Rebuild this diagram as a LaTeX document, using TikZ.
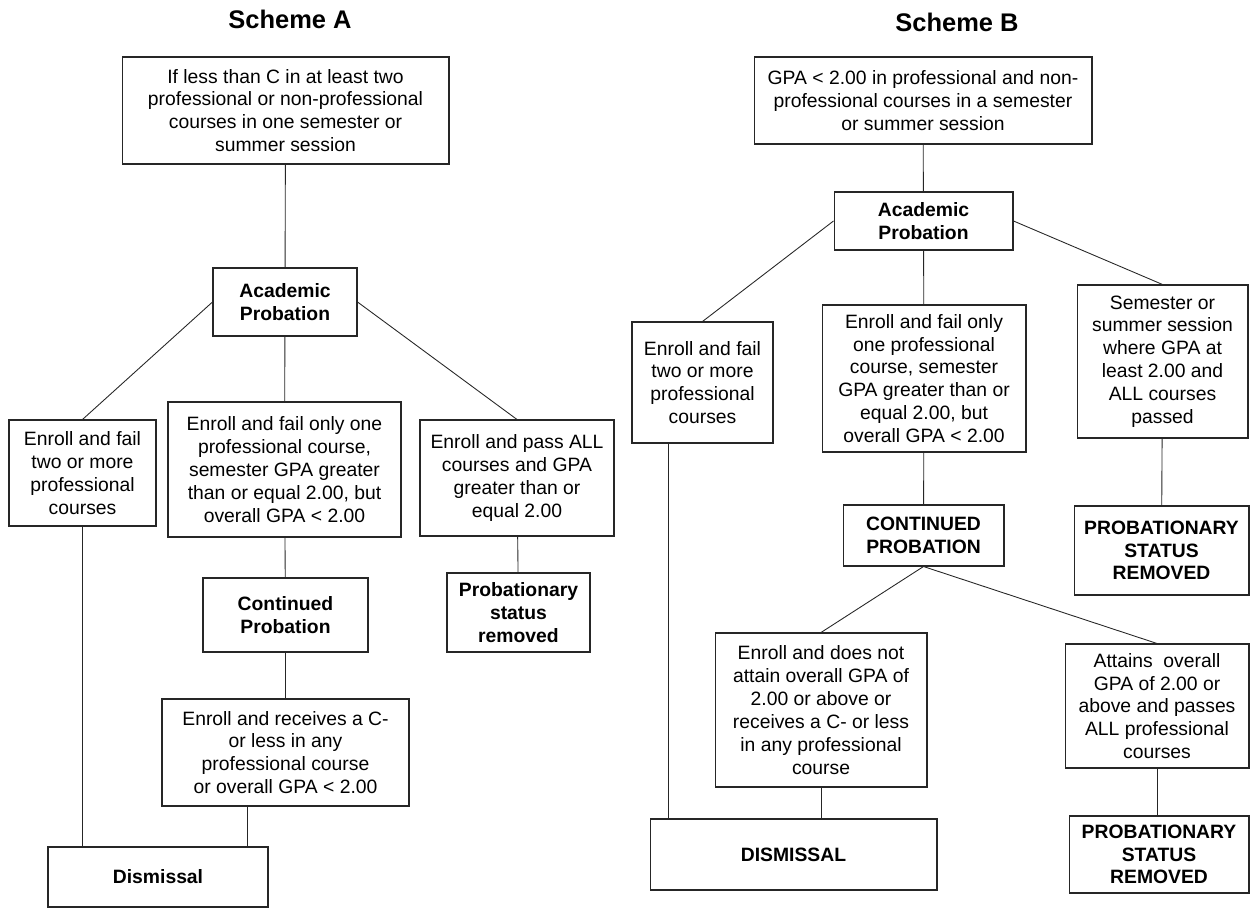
\documentclass[tikz,border=0pt]{standalone}
\usepackage{fontspec}
\setmainfont{Liberation Sans}

\begin{document}
\begin{tikzpicture}[x=0.02cm, y=-0.02cm,
	box/.style={draw=black!85, line width=0.6pt, align=center, inner sep=0pt, font=\fontsize{11}{13}\selectfont},
	hd/.style={box, font=\fontsize{11}{13}\selectfont\bfseries},
	title/.style={font=\fontsize{14.5}{17}\selectfont\bfseries},
	wire/.style={draw=black!85, line width=0.5pt}]
	\useasboundingbox (0,0) rectangle (1250,908);
	% Scheme A, nodes:
	\node[title] (titleA) at (290,19) {Scheme A};
	\node[box, minimum width=6.54cm, minimum height=2.14cm] (startA) at (285.5,110.5) {If less than C in at least two\\professional or non-professional\\courses in one semester or\\summer session};
	\node[hd, minimum width=2.88cm, minimum height=1.36cm] (probA) at (285,302) {Academic\\Probation};
	\node[box, minimum width=2.94cm, minimum height=2.12cm] (twoA) at (82.5,473) {Enroll and fail\\two or more\\professional\\courses};
	\node[box, minimum width=4.66cm, minimum height=2.70cm] (oneA) at (284.5,469.5) {Enroll and fail only one\\professional course,\\semester GPA greater\\than or equal 2.00, but\\overall GPA < 2.00};
	\node[box, minimum width=3.88cm, minimum height=2.32cm] (passA) at (517,478) {Enroll and pass ALL\\courses and GPA\\greater than or\\equal 2.00};
	\node[hd, minimum width=2.86cm, minimum height=1.58cm] (removedA) at (518.5,612.5) {Probationary\\status\\removed};
	\node[hd, minimum width=3.30cm, minimum height=1.48cm] (contA) at (285.5,615) {Continued\\Probation};
	\node[box, minimum width=4.94cm, minimum height=2.14cm] (lowA) at (285.5,752.5) {Enroll and receives a C-\\or less in any\\professional course\\or overall GPA < 2.00};
	\node[hd, minimum width=4.40cm, minimum height=1.20cm] (dismA) at (158,877) {Dismissal};
	% Scheme A, wires:
	\draw[wire] (startA) -- (probA);
	\draw[wire] (probA.west) -- (twoA.north);
	\draw[wire] (probA) -- (oneA);
	\draw[wire] (probA.east) -- (passA.north);
	\draw[wire] (passA) -- (removedA);
	\draw[wire] (oneA) -- (contA);
	\draw[wire] (contA) -- (lowA);
	\draw[wire] (twoA.south) -- (twoA.south |- dismA.north);
	\draw[wire] ([xshift=1.72cm]lowA.south west) -- ([xshift=1.72cm]lowA.south west |- dismA.north);
	% Scheme B, nodes:
	\node[title] (titleB) at (957,22) {Scheme B};
	\node[box, minimum width=6.76cm, minimum height=1.74cm] (startB) at (923,100.5) {GPA < 2.00 in professional and non-\\professional courses in a semester\\or summer session};
	\node[hd, minimum width=3.58cm, minimum height=1.16cm] (probB) at (923.5,221) {Academic\\Probation};
	\node[box, minimum width=2.82cm, minimum height=2.42cm] (twoB) at (702.5,382.5) {Enroll and fail\\two or more\\professional\\courses};
	\node[box, minimum width=4.08cm, minimum height=2.94cm] (oneB) at (924,378.5) {Enroll and fail only\\one professional\\course, semester\\GPA greater than or\\equal 2.00, but\\overall GPA < 2.00};
	\node[box, minimum width=3.42cm, minimum height=3.06cm] (passB) at (1162.5,361.5) {Semester or\\summer session\\where GPA at\\least 2.00 and\\ALL courses\\passed};
	\node[hd, minimum width=3.50cm, minimum height=1.78cm] (removedB) at (1161.5,550.5) {PROBATIONARY\\STATUS\\REMOVED};
	\node[hd, minimum width=3.22cm, minimum height=1.22cm] (contB) at (923.5,535.5) {CONTINUED\\PROBATION};
	\node[box, minimum width=4.24cm, minimum height=3.08cm] (lowB) at (821,710) {Enroll and does not\\attain overall GPA of\\2.00 or above or\\receives a C- or less\\in any professional\\course};
	\node[box, minimum width=3.68cm, minimum height=2.48cm] (goodB) at (1157,706) {Attains\ \ overall\\GPA of 2.00 or\\above and passes\\ALL professional\\courses};
	\node[hd, minimum width=3.60cm, minimum height=1.54cm] (clearB) at (1159,854.5) {PROBATIONARY\\STATUS\\REMOVED};
	\node[hd, minimum width=5.74cm, minimum height=1.42cm] (dismB) at (793.5,854.5) {DISMISSAL};
	% Scheme B, wires:
	\draw[wire] (startB) -- (probB);
	\draw[wire] (probB.west) -- (twoB.north);
	\draw[wire] (probB) -- (oneB);
	\draw[wire] (probB.east) -- (passB.north);
	\draw[wire] (passB) -- (removedB);
	\draw[wire] (oneB) -- (contB);
	\draw[wire] (contB.south) -- (lowB.north);
	\draw[wire] (contB.south) -- (goodB.north);
	\draw[wire] (goodB.south) -- (goodB.south |- clearB.north);
	\draw[wire] (lowB.south) -- (lowB.south |- dismB.north);
	\draw[wire] ([xshift=-0.69cm]twoB.south) -- ([xshift=-0.69cm]twoB.south |- dismB.north);
\end{tikzpicture}
\end{document}
